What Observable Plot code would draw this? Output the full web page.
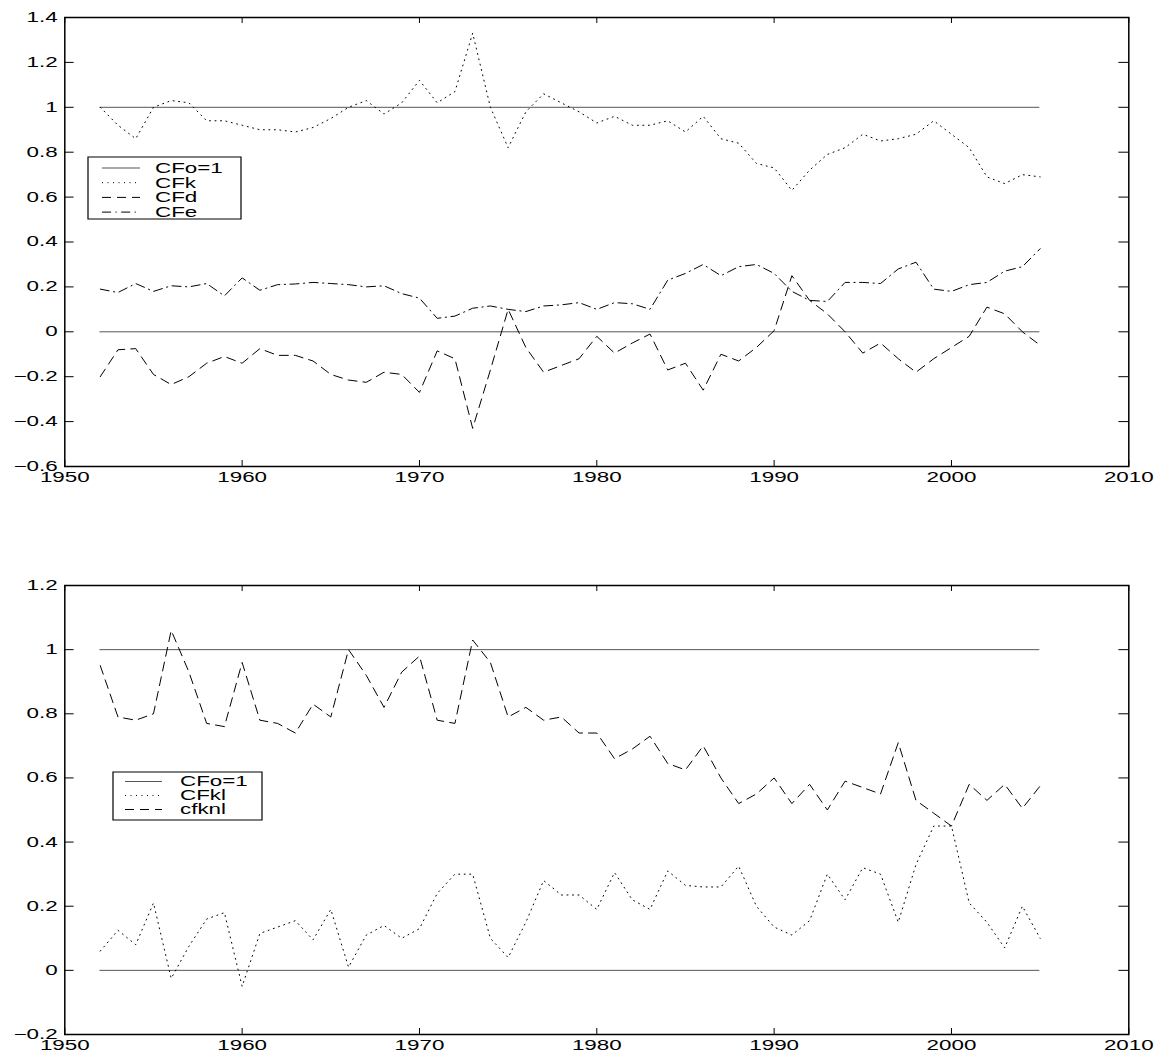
<!DOCTYPE html>
<html><head><meta charset="utf-8">
<script src="https://cdn.jsdelivr.net/npm/d3@7"></script>
<script src="https://cdn.jsdelivr.net/npm/@observablehq/plot@0.6"></script>
<style>
html,body{margin:0;padding:0;background:#fff;}
svg{display:block;}
</style></head><body>
<div id="chart"></div>
<script>
const years = [1952,1953,1954,1955,1956,1957,1958,1959,1960,1961,1962,1963,1964,1965,1966,1967,1968,1969,1970,1971,1972,1973,1974,1975,1976,1977,1978,1979,1980,1981,1982,1983,1984,1985,1986,1987,1988,1989,1990,1991,1992,1993,1994,1995,1996,1997,1998,1999,2000,2001,2002,2003,2004,2005];

const cfk = [1.00,0.92,0.86,1.00,1.03,1.02,0.94,0.94,0.92,0.90,
             0.90,0.89,0.91,0.95,1.00,1.03,0.97,1.02,1.12,1.02,
             1.07,1.33,1.00,0.82,0.98,1.06,1.02,0.98,0.93,0.96,
             0.92,0.92,0.94,0.89,0.96,0.86,0.84,0.75,0.73,0.63,
             0.72,0.79,0.82,0.88,0.85,0.86,0.88,0.94,0.88,0.82,
             0.69,0.66,0.70,0.69];
const cfd = [-0.20,-0.08,-0.075,-0.19,-0.235,-0.20,-0.14,-0.11,-0.14,-0.075,
             -0.105,-0.105,-0.13,-0.19,-0.215,-0.225,-0.18,-0.19,-0.27,-0.085,
             -0.12,-0.43,-0.17,0.10,-0.07,-0.18,-0.15,-0.12,-0.02,-0.095,
             -0.05,-0.01,-0.17,-0.14,-0.26,-0.10,-0.13,-0.07,0.005,0.25,
             0.14,0.08,0.0,-0.095,-0.05,-0.12,-0.18,-0.12,-0.07,-0.02,
             0.11,0.08,0.0,-0.06];
const cfe = [0.19,0.175,0.215,0.18,0.205,0.20,0.215,0.16,0.24,0.185,
             0.21,0.213,0.22,0.215,0.21,0.20,0.205,0.17,0.15,0.06,
             0.07,0.105,0.115,0.10,0.09,0.115,0.12,0.13,0.10,0.13,
             0.125,0.10,0.23,0.26,0.30,0.25,0.29,0.30,0.26,0.18,
             0.14,0.135,0.22,0.22,0.215,0.28,0.31,0.19,0.18,0.21,
             0.22,0.27,0.29,0.37];
const cfkl = [0.06,0.125,0.08,0.21,-0.025,0.075,0.16,0.18,-0.05,0.115,
              0.135,0.155,0.095,0.19,0.01,0.11,0.14,0.10,0.13,0.24,
              0.30,0.30,0.10,0.04,0.15,0.28,0.235,0.235,0.19,0.305,
              0.22,0.19,0.31,0.265,0.26,0.26,0.325,0.20,0.135,0.11,
              0.155,0.30,0.22,0.32,0.30,0.15,0.33,0.45,0.45,0.21,
              0.15,0.07,0.20,0.10];
const cfknl = [0.95,0.79,0.78,0.80,1.06,0.93,0.77,0.76,0.96,0.78,
               0.77,0.74,0.83,0.79,1.00,0.92,0.82,0.93,0.98,0.78,
               0.77,1.03,0.96,0.79,0.82,0.78,0.79,0.74,0.74,0.66,
               0.69,0.73,0.645,0.625,0.70,0.60,0.52,0.55,0.60,0.52,
               0.58,0.50,0.59,0.57,0.55,0.71,0.53,0.49,0.45,0.58,
               0.53,0.58,0.505,0.575];

const refLevels = [1, 0];
const xTicks = [1950,1960,1970,1980,1990,2000,2010];
const yTicksTop = [-0.6,-0.4,-0.2,0,0.2,0.4,0.6,0.8,1,1.2,1.4];
const yTicksBottom = [-0.2,0,0.2,0.4,0.6,0.8,1,1.2];
const legendTop = ["CFo=1","CFk","CFd","CFe"];
const legendBottom = ["CFo=1","CFkl","cfknl"];

const DASH = {solid: null, dotted: "1,4.5", dashed: "9,6", dashdot: "9,4.5,1.2,4.5"};
const W = 1159, S = 1.6, W0 = W / S;
const FONT = "'Liberation Sans', Arial, Helvetica, sans-serif";

function panel({height, marginTop, marginBottom, yDomain, yTicks, series, legend}) {
  const mL = 64 / S, mR = (W - 1128) / S;
  const frameW = W0 - mL - mR, frameH = height - marginTop - marginBottom;
  const fmt = d3.format("~g");
  const marks = [
    Plot.ruleY(refLevels, {y: d => d, x1: years[0], x2: years[years.length - 1], stroke: "#555", strokeWidth: 1}),
    ...series.map(s => Plot.line(years.map((yr, i) => ({yr, v: s.values[i]})),
      {x: "yr", y: "v", stroke: "#000", strokeWidth: 1, strokeDasharray: DASH[s.dash]})),
    Plot.tickX(xTicks, {x: d => d, insetTop: frameH - 6, stroke: "#000", strokeWidth: 1}),
    Plot.tickX(xTicks, {x: d => d, insetBottom: frameH - 6, stroke: "#000", strokeWidth: 1}),
    Plot.tickY(yTicks, {y: d => d, insetRight: frameW - 6, stroke: "#000", strokeWidth: 1}),
    Plot.tickY(yTicks, {y: d => d, insetLeft: frameW - 6, stroke: "#000", strokeWidth: 1}),
    Plot.axisX({ticks: xTicks, tickSize: 0, tickPadding: 5.5, tickFormat: d => String(d), label: null}),
    Plot.axisY({ticks: yTicks, tickSize: 0, tickPadding: 4.5, tickFormat: fmt, label: null}),
    Plot.frame({stroke: "#000", strokeWidth: 1.5})
  ];
  const svg = Plot.plot({
    width: W0, height, marginTop, marginBottom, marginLeft: mL, marginRight: mR,
    x: {domain: [1950, 2010], label: null},
    y: {domain: yDomain, label: null},
    style: {fontFamily: FONT, fontSize: "14px", color: "#000", background: "#fff", overflow: "visible"},
    marks
  });
  svg.setAttribute("width", W);
  svg.setAttribute("preserveAspectRatio", "none");
  svg.style.width = W + "px";
  svg.style.height = height + "px";
  svg.style.maxWidth = "none";

  // legend (layout in unstretched units)
  const L = legend;
  const g = d3.select(svg).append("g").attr("font-family", FONT).attr("font-size", 14).attr("text-anchor", "start");
  g.append("rect").attr("x", L.x0 / S).attr("y", L.y0).attr("width", (L.x1 - L.x0) / S).attr("height", L.y1 - L.y0)
    .attr("fill", "#fff").attr("stroke", "#000").attr("stroke-width", 1.2);
  L.items.forEach((name, i) => {
    const y = L.y0 + L.rowStart + i * L.rowStep;
    const dash = i === 0 ? null : DASH[series[i - 1].dash];
    g.append("line").attr("x1", L.lx0 / S).attr("x2", L.lx1 / S).attr("y1", y).attr("y2", y)
      .attr("stroke", i === 0 ? "#555" : "#000").attr("stroke-width", 1)
      .attr("stroke-dasharray", dash);
    g.append("text").attr("x", L.tx / S).attr("y", y).attr("dy", "0.35em")
      .attr("text-anchor", "start").attr("fill", "#000").text(name);
  });
  svg.querySelectorAll("path, line, rect").forEach(e => e.setAttribute("vector-effect", "non-scaling-stroke"));
  return svg;
}

const chart = document.getElementById("chart");
chart.appendChild(panel({
  height: 530, marginTop: 17, marginBottom: 64,
  yDomain: [-0.6, 1.4], yTicks: yTicksTop,
  series: [{values: cfk, dash: "dotted"}, {values: cfd, dash: "dashed"}, {values: cfe, dash: "dashdot"}],
  legend: {x0: 88, x1: 241, y0: 157, y1: 219, rowStart: 11, rowStep: 14.7, lx0: 102, lx1: 140, tx: 155, items: legendTop}
}));
chart.appendChild(panel({
  height: 523, marginTop: 55, marginBottom: 19,
  yDomain: [-0.2, 1.2], yTicks: yTicksBottom,
  series: [{values: cfkl, dash: "dotted"}, {values: cfknl, dash: "dashed"}],
  legend: {x0: 113, x1: 262, y0: 242, y1: 290, rowStart: 9.5, rowStep: 14, lx0: 125, lx1: 162, tx: 180, items: legendBottom}
}));
</script>
</body></html>
